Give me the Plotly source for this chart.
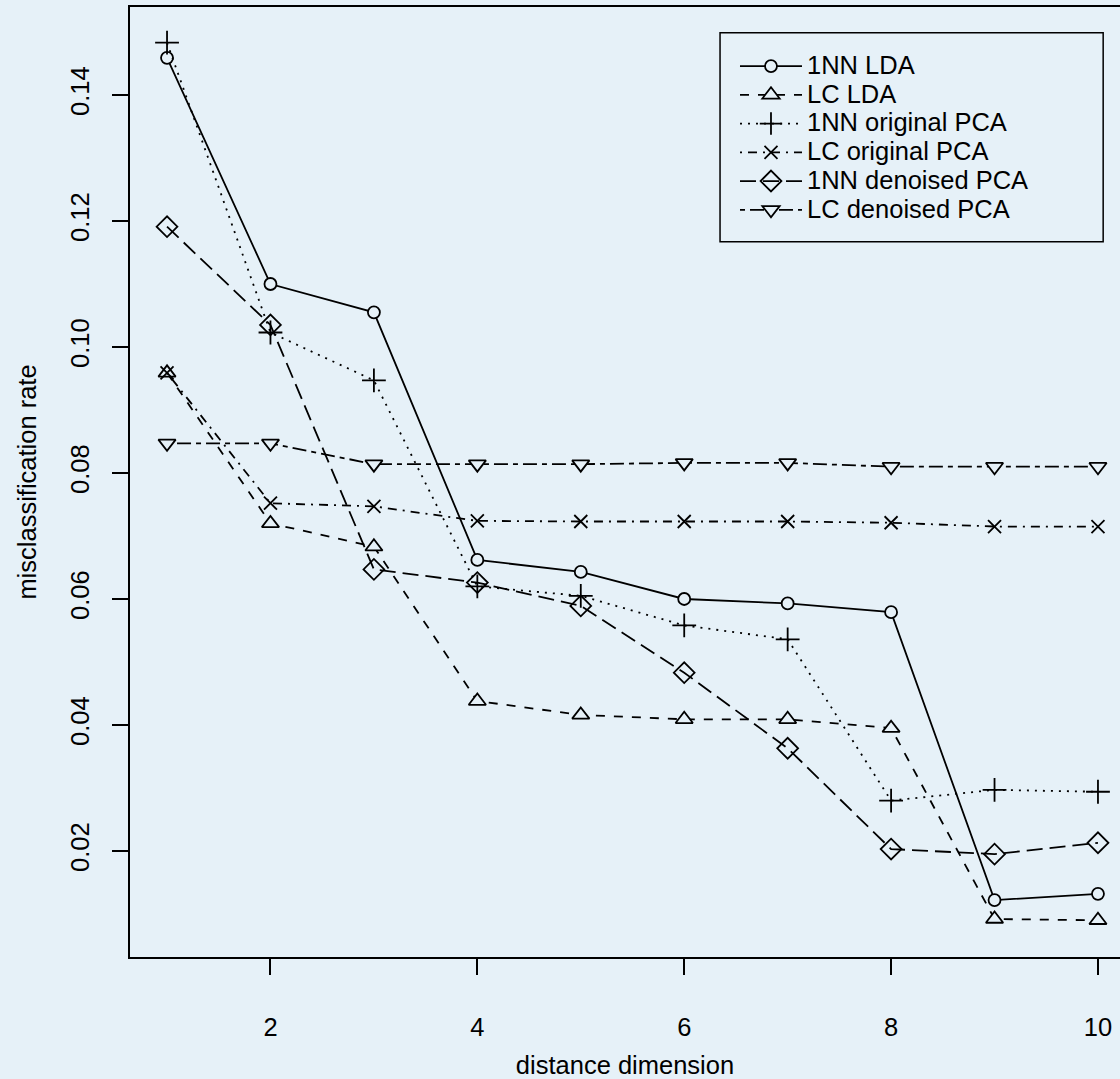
import plotly.graph_objects as go

dims = [1, 2, 3, 4, 5, 6, 7, 8, 9, 10]
lda_1nn = [0.1459, 0.1100, 0.1055, 0.0662, 0.0643, 0.0600, 0.0593, 0.0579, 0.0122, 0.0132]
lda_lc = [0.0959, 0.0720, 0.0683, 0.0438, 0.0416, 0.0409, 0.0409, 0.0395, 0.0092, 0.0090]
pca_1nn = [0.1483, 0.1023, 0.0947, 0.0620, 0.0605, 0.0558, 0.0536, 0.0280, 0.0297, 0.0294]
pca_lc = [0.0959, 0.0752, 0.0747, 0.0724, 0.0723, 0.0723, 0.0723, 0.0721, 0.0715, 0.0715]
dpca_1nn = [0.1191, 0.1035, 0.0647, 0.0626, 0.0589, 0.0483, 0.0363, 0.0203, 0.0195, 0.0213]
dpca_lc = [0.0847, 0.0847, 0.0814, 0.0814, 0.0814, 0.0816, 0.0816, 0.0810, 0.0810, 0.0810]

names = ["1NN LDA", "LC LDA", "1NN original PCA", "LC original PCA",
         "1NN denoised PCA", "LC denoised PCA"]
series = [lda_1nn, lda_lc, pca_1nn, pca_lc, dpca_1nn, dpca_lc]
dashes = ["solid", "9px,9px", "2px,6px", "2px,6px,9px,6px", "16px,7px", "5px,5px,14px,5px"]
symbols = ["circle", "triangle-up", "cross-thin-open", "x-thin-open",
           "diamond-open", "triangle-down"]
sizes = [12, 15, 17, 13, 16, 15]

BG = "#e6f1f8"
FONT = "Liberation Sans, Arial, Helvetica, sans-serif"

fig = go.Figure()
for i, (nm, ys) in enumerate(zip(names, series)):
    fill = "black" if symbols[i].endswith("open") else BG
    fig.add_trace(go.Scatter(
        x=dims, y=ys, name=f'<span style="font-size:25.5px">{nm}</span>',
        mode="lines+markers",
        legendgroup=f"g{i}",
        line=dict(color="black", width=1.8, dash=dashes[i]),
        marker=dict(symbol=symbols[i], size=sizes[i], color=fill,
                    line=dict(color="black", width=1.8)),
    ))

# legend box
fig.add_shape(type="rect", xref="paper", yref="paper",
              x0=0.596, x1=0.983, y0=0.753, y1=0.973,
              line=dict(color="black", width=1.5), fillcolor="rgba(0,0,0,0)")

fig.update_layout(
    width=1120, height=1079,
    paper_bgcolor=BG, plot_bgcolor=BG,
    margin=dict(l=130, r=0, t=7, b=122),
    font=dict(family=FONT, size=25.5, color="black"),
    showlegend=True,
    legend=dict(x=0.6111, y=0.9582, xanchor="left", yanchor="top",
                bgcolor="rgba(0,0,0,0)", borderwidth=0,
                font=dict(size=19.8), itemwidth=62, tracegroupgap=0,
                traceorder="grouped", itemclick=False),
    xaxis=dict(range=[0.642, 10.213], tickvals=[2, 4, 6, 8, 10],
               showgrid=False, zeroline=False,
               showline=True, mirror=True, linecolor="black", linewidth=2,
               ticks="outside", ticklen=16, tickwidth=1.5, tickcolor="black",
               ticklabelstandoff=30, tickfont=dict(size=25.5),
               title=dict(text="distance dimension", standoff=18,
                          font=dict(size=25.5))),
    yaxis=dict(range=[0.00317, 0.15397],
               tickvals=[0.02, 0.04, 0.06, 0.08, 0.10, 0.12, 0.14],
               ticktext=["0.02", "0.04", "0.06", "0.08", "0.10", "0.12", "0.14"],
               tickangle=-90,
               showgrid=False, zeroline=False,
               showline=True, mirror=False, linecolor="black", linewidth=2,
               ticks="outside", ticklen=16, tickwidth=1.5, tickcolor="black",
               ticklabelstandoff=13, tickfont=dict(size=25.5),
               title=dict(text="misclassification rate", standoff=22,
                          font=dict(size=25.5))),
)

fig.write_html("out.html")
